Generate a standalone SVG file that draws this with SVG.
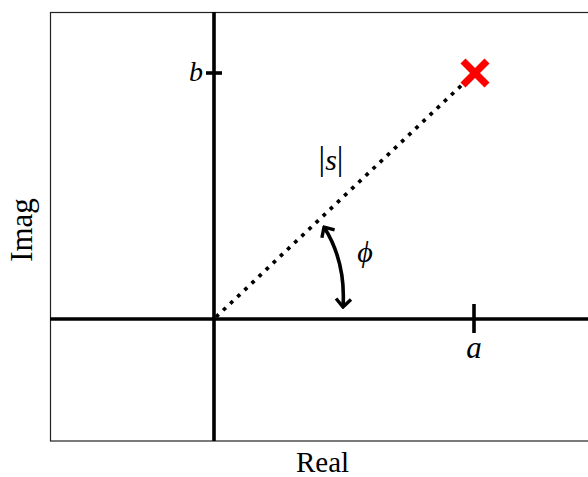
<svg xmlns="http://www.w3.org/2000/svg" width="588" height="477" viewBox="0 0 588 477">
<style>
.frame{fill:none;stroke:#222;stroke-width:1.2}
.axis{stroke:#000;stroke-width:3.6;fill:none}
.lbl{font-family:"Liberation Serif","Times New Roman",serif;fill:#000}
.math{font-family:"Liberation Serif","Times New Roman",serif;font-style:italic;fill:#000}
.dot{stroke:#000;stroke-width:3.7;stroke-dasharray:3.7 6.1;fill:none}
.arc{stroke:#000;stroke-width:3.6;fill:none}
.pole{stroke:#ff0000;stroke-width:7;stroke-linecap:butt}
</style>
<defs>
<marker id="head" markerUnits="userSpaceOnUse" viewBox="-12 -10 14 20" refX="0" refY="0" markerWidth="14" markerHeight="20" orient="auto-start-reverse">
<path d="M -8 -7.5 L 0 0 L -8 7.5" fill="none" stroke="#000" stroke-width="3.4" stroke-linejoin="miter"/>
</marker>
</defs>
<rect id="frame" class="frame" x="50.5" y="12.5" width="560" height="428.5"/>
<g id="axes">
<line class="axis" x1="50" y1="319" x2="588" y2="319"/>
<line class="axis" x1="214" y1="12" x2="214" y2="441"/>
<line class="axis" x1="206" y1="73" x2="222" y2="73"/>
<line class="axis" x1="474" y1="304" x2="474" y2="333"/>
</g>
<g id="connectors">
<line class="dot" x1="216" y1="317" x2="465" y2="82"/>
<path class="arc" d="M 324 227 Q 346 262 343 307" marker-start="url(#head)" marker-end="url(#head)"/>
</g>
<g id="pole">
<line class="pole" x1="463" y1="61" x2="487" y2="85"/>
<line class="pole" x1="463" y1="85" x2="487" y2="61"/>
</g>
<g id="labels">
<text class="math" x="203" y="81" font-size="28" text-anchor="end">b</text>
<text class="math" x="474" y="358" font-size="31" text-anchor="middle">a</text>
<text class="lbl" x="331" y="170" font-size="33" text-anchor="middle">|<tspan font-style="italic" font-size="30">s</tspan>|</text>
<text class="math" x="365" y="262" font-size="30" text-anchor="middle">ϕ</text>
<text class="lbl" x="322.5" y="472" font-size="29" text-anchor="middle">Real</text>
<text class="lbl" font-size="31" text-anchor="middle" transform="translate(32,230) rotate(-90)">Imag</text>
</g>
</svg>
